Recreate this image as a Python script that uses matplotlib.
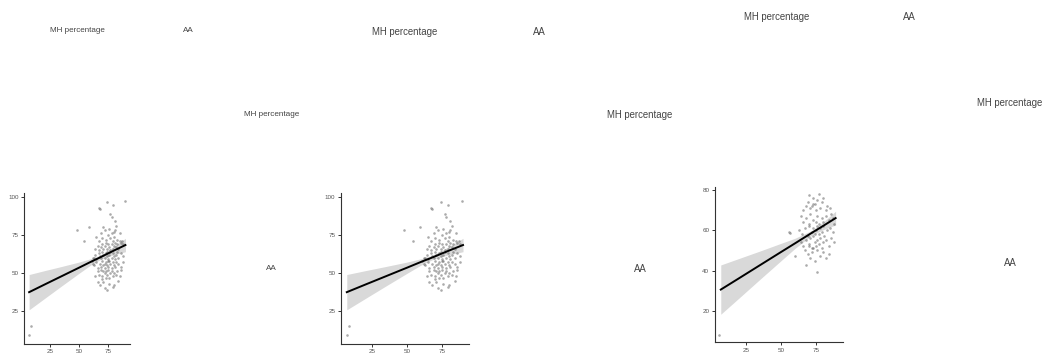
import numpy as np
import matplotlib
matplotlib.use('Agg')
import matplotlib.pyplot as plt

plt.rcParams['font.family'] = ['Liberation Sans', 'DejaVu Sans']

## pontos (paineis 1 e 2 iguais)
mh_a = [7, 8.5, 48, 54, 59, 67, 68, 74, 79.5, 89.5, 77, 78, 81, 82, 80, 61, 62, 63,
        66, 68, 70, 72, 74, 76, 79, 80, 84, 71,
        64, 66, 67, 69, 70, 72, 73, 74, 75, 76, 77, 78, 79, 80, 82, 83, 85, 86, 73, 71,
        63, 65, 66, 68, 69, 70, 71, 72, 73, 74, 75, 76, 77, 78, 79, 80, 81, 82, 84, 86, 88, 75, 72,
        62, 64, 65, 67, 68, 69, 70, 71, 72, 73, 74, 75, 76, 77, 78, 79, 80, 81, 82, 83, 84, 86, 88, 74,
        64, 66, 67, 69, 70, 71, 72, 73, 74, 75, 76, 77, 78, 79, 80, 81, 82, 83, 85, 86, 87, 88, 84,
        65, 67, 69, 70, 72, 73, 75, 76, 77, 78, 79, 80, 81, 83, 85, 71]
aa_a = [9, 15, 78, 71, 80, 93, 92, 97, 95, 97.5, 89, 87, 84, 81, 77, 58, 56, 60,
        44, 42, 46, 40, 39, 43, 41, 42, 45, 44,
        48, 51, 49, 52, 48, 50, 51, 49, 52, 47, 50, 51, 48, 50, 49, 51, 48, 52, 47, 51,
        55, 57, 53, 56, 54, 58, 55, 53, 57, 55, 54, 58, 56, 53, 57, 55, 54, 57, 56, 54, 57, 58, 56,
        60, 62, 59, 63, 61, 60, 64, 62, 60, 63, 61, 59, 62, 64, 60, 63, 61, 59, 62, 64, 60, 63, 61, 64,
        66, 68, 65, 67, 69, 66, 68, 70, 66, 69, 67, 65, 69, 66, 68, 70, 67, 69, 71, 70, 71, 69, 66,
        74, 71, 76, 73, 78, 72, 75, 79, 73, 76, 71, 74, 78, 72, 76, 80]

## painel 3
mh_b = [6, 56, 56.3, 70, 60, 75.5, 68,
        67, 69, 71, 72, 74, 76, 78, 80, 82, 84, 73, 70,
        64, 66, 68, 70, 71, 72, 74, 75, 76, 77, 78, 79, 80, 82, 84, 86, 88, 73,
        63, 65, 67, 69, 70, 72, 73, 74, 75, 76, 77, 78, 79, 80, 81, 83, 85, 87, 88,
        64, 66, 68, 70, 71, 73, 75, 76, 77, 79, 80, 82, 84, 86, 87, 72,
        66, 68, 69, 71, 73, 74, 75, 76, 77, 78, 79, 80, 82, 83, 85, 73]
aa_b = [8, 59, 58.5, 77.5, 47, 39.5, 43,
        50, 48, 46, 49, 45, 50, 47, 49, 46, 48, 51, 52,
        54, 52, 55, 53, 56, 51, 54, 52, 55, 53, 56, 51, 54, 55, 52, 56, 54, 57,
        60, 58, 61, 57, 62, 59, 61, 58, 60, 62, 58, 61, 59, 62, 57, 60, 61, 59, 63,
        67, 64, 66, 63, 68, 65, 64, 67, 63, 66, 64, 67, 65, 68, 66, 72,
        70, 72, 74, 71, 76, 73, 70, 75, 78, 71, 74, 76, 70, 72, 71, 73]

## reta ajustada e intervalo de confianca (lidos)
fit_x_a = [7, 20, 35, 50, 60, 68, 78, 90]
fit_y_a = [37.4, 42.3, 47.9, 53.5, 57.3, 60.2, 64.0, 68.4]
lo_a = [25.8, 33.1, 41.5, 49.8, 55.2, 58.7, 61.6, 64.0]
hi_a = [49.0, 51.5, 54.3, 57.2, 59.4, 61.7, 66.4, 72.8]

fit_x_b = [7, 20, 35, 50, 60, 72, 80, 89]
fit_y_b = [30.6, 36.2, 42.7, 49.2, 53.5, 58.7, 62.1, 66.0]
lo_b = [18.4, 26.4, 35.7, 44.9, 51.0, 57.5, 60.2, 62.6]
hi_b = [42.8, 46.0, 49.7, 53.5, 56.0, 59.9, 64.0, 69.4]

xticks = [25, 50, 75]
yticks_a = [25, 50, 75, 100]
yticks_b = [20, 40, 60, 80]

## textos soltos: (texto, x px, y px, tamanho)
labels = [('MH percentage', 77, 31, 5.8), ('AA', 188, 31, 5.8),
          ('MH percentage', 272, 115, 5.9), ('AA', 271, 269, 5.9),
          ('MH percentage', 405, 32, 6.9), ('AA', 539, 32, 6.9),
          ('MH percentage', 640, 115, 6.9), ('AA', 640, 269, 6.9),
          ('MH percentage', 777, 17, 6.9), ('AA', 909, 17, 6.9),
          ('MH percentage', 1010, 103, 6.9), ('AA', 1010, 263, 6.9)]

W, H = 1042, 353
fig = plt.figure(figsize=(W / 100, H / 100), dpi=100)


def painel(left, right, top, bottom, xs, ys, fx, fy, lo, hi, xlim, ylim, yticks):
    ax = fig.add_axes([left / W, 1 - bottom / H, (right - left) / W, (bottom - top) / H])
    ax.fill_between(fx, lo, hi, color='#d9d9d9', lw=0, zorder=1)
    ax.scatter(xs, ys, s=3.5, color='#666666', alpha=0.55, lw=0, zorder=2)
    ax.plot(fx, fy, color='black', lw=1.4, zorder=3)
    ax.set_xlim(xlim)
    ax.set_ylim(ylim)
    ax.set_xticks(xticks)
    ax.set_yticks(yticks)
    for s in ['top', 'right']:
        ax.spines[s].set_visible(False)
    for s in ['left', 'bottom']:
        ax.spines[s].set_color('#333333')
        ax.spines[s].set_linewidth(0.8)
    ax.tick_params(length=2, width=0.7, color='#333333', labelsize=4.5,
                   labelcolor='#555555', pad=2)
    ax.set_facecolor('none')
    return ax


painel(24.25, 130.3, 193.2, 343.7, mh_a, aa_a, fit_x_a, fit_y_a, lo_a, hi_a,
       (2.8, 94.2), (3.5, 102.5), yticks_a)
painel(340.9, 468.9, 193.2, 343.7, mh_a, aa_a, fit_x_a, fit_y_a, lo_a, hi_a,
       (2.8, 94.2), (3.5, 102.5), yticks_a)
painel(714.9, 842.9, 186.8, 342.3, mh_b, aa_b, fit_x_b, fit_y_b, lo_b, hi_b,
       (2.8, 94.2), (4.5, 81.5), yticks_b)

for txt, x, y, sz in labels:
    fig.text(x / W, 1 - y / H, txt, ha='center', va='center', fontsize=sz, color='#444444')

fig.savefig('out.png', dpi=100)
